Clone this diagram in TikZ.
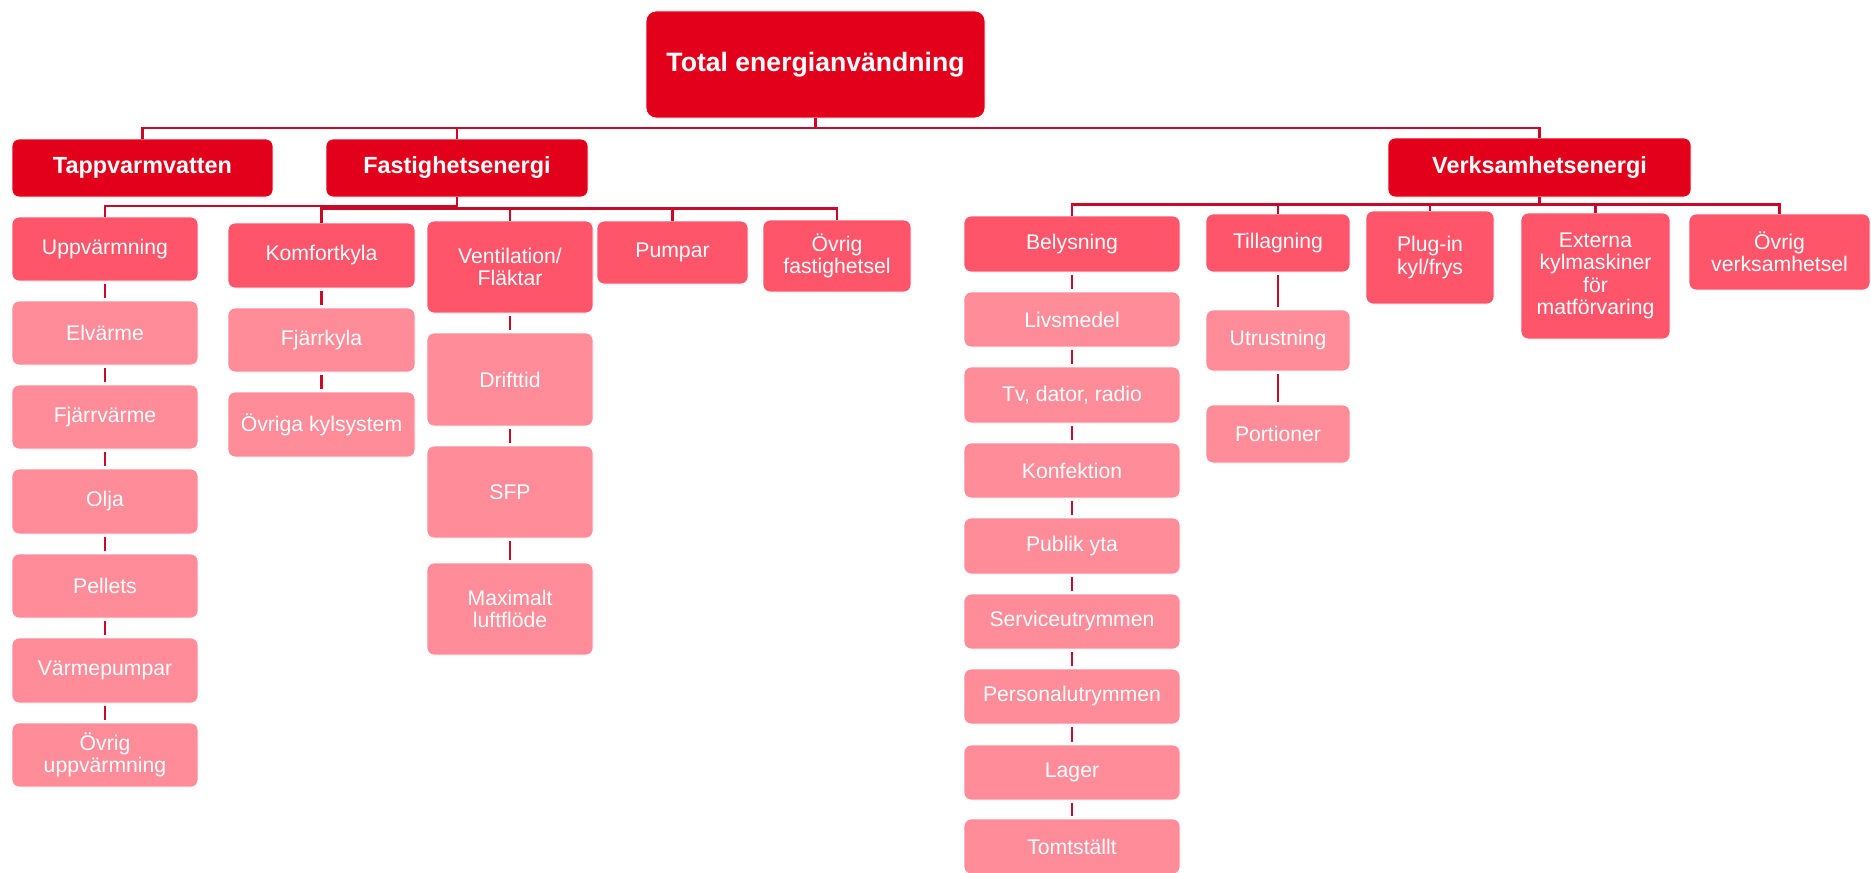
\documentclass[tikz,border=0pt]{standalone}
\usepackage{fontspec}
\setmainfont{Liberation Sans}
\definecolor{dk}{RGB}{226,0,26}
\definecolor{md}{RGB}{255,85,106}
\definecolor{lt}{RGB}{255,140,152}
\definecolor{ln}{RGB}{200,10,40}
\newcommand{\bx}[7]{%
  \pgfmathsetmacro{\bxcx}{(#2+#4)/2}%
  \pgfmathsetmacro{\bxcy}{(#3+#5)/2}%
  \pgfmathsetmacro{\bxw}{(#4-#2)*0.5}%
  \pgfmathsetmacro{\bxh}{(#5-#3)*0.5}%
  \node[#6, minimum width=\bxw pt, minimum height=\bxh pt] (#1) at (\bxcx,\bxcy) {#7};}
\begin{document}
\begin{tikzpicture}[x=0.5pt,y=-0.5pt,
  box/.style={rounded corners=3.5pt, inner sep=0pt, align=center, text=white, draw=white, line width=0.4pt},
  darkbox/.style={box, fill=dk, font=\fontsize{11.7}{14}\selectfont\bfseries},
  topbox/.style={box, fill=dk, rounded corners=5pt, font=\fontsize{13.3}{16}\selectfont\bfseries},
  midbox/.style={box, fill=md, font=\fontsize{10.6}{11.2}\selectfont},
  litebox/.style={box, fill=lt, font=\fontsize{10.6}{11.2}\selectfont},
  bus/.style={draw=ln, line width=1.2pt},
  link/.style={draw=ln, line width=1.4pt, shorten <=1.2pt, shorten >=1.2pt}]
\clip (0,0) rectangle (1871,872);
\fill[white] (0,0) rectangle (1871,872);
% top
\bx{total}{646}{11}{985}{118}{topbox}{Total energianvändning}
\bx{tapp}{12}{139}{273}{197}{darkbox}{Tappvarmvatten}
\bx{fast}{326}{139}{588}{197}{darkbox}{Fastighetsenergi}
\bx{verk}{1388}{138}{1691}{197}{darkbox}{Verksamhetsenergi}
% Fastighetsenergi children
\bx{upp}{12}{217}{198}{281}{midbox}{Uppvärmning}
\bx{elv}{12}{301}{198}{365}{litebox}{Elvärme}
\bx{fjv}{12}{385}{198}{449}{litebox}{Fjärrvärme}
\bx{olja}{12}{469}{198}{534}{litebox}{Olja}
\bx{pell}{12}{554}{198}{618}{litebox}{Pellets}
\bx{varm}{12}{638}{198}{703}{litebox}{Värmepumpar}
\bx{ovu}{12}{723}{198}{787}{litebox}{Övrig\\uppvärmning}
\bx{komf}{228}{223}{415}{288}{midbox}{Komfortkyla}
\bx{fjk}{228}{308}{415}{372}{litebox}{Fjärrkyla}
\bx{ovk}{228}{392}{415}{457}{litebox}{Övriga kylsystem}
\bx{vent}{427}{221}{593}{313}{midbox}{Ventilation/\\Fläktar}
\bx{drift}{427}{333}{593}{426}{litebox}{Drifttid}
\bx{sfp}{427}{446}{593}{538}{litebox}{SFP}
\bx{maxl}{427}{563}{593}{655}{litebox}{Maximalt\\luftflöde}
\bx{pump}{597}{221}{748}{284}{midbox}{Pumpar}
\bx{ovf}{763}{220}{911}{292}{midbox}{Övrig\\fastighetsel}
% Verksamhetsenergi children
\bx{bel}{964}{216}{1180}{272}{midbox}{Belysning}
\bx{liv}{964}{292}{1180}{347}{litebox}{Livsmedel}
\bx{tv}{964}{367}{1180}{423}{litebox}{Tv, dator, radio}
\bx{konf}{964}{443}{1180}{498}{litebox}{Konfektion}
\bx{pub}{964}{518}{1180}{574}{litebox}{Publik yta}
\bx{serv}{964}{594}{1180}{649}{litebox}{Serviceutrymmen}
\bx{pers}{964}{669}{1180}{724}{litebox}{Personalutrymmen}
\bx{lag}{964}{745}{1180}{800}{litebox}{Lager}
\bx{tom}{964}{819}{1180}{874}{litebox}{Tomtställt}
\bx{till}{1206}{214}{1350}{272}{midbox}{Tillagning}
\bx{utr}{1206}{310}{1350}{371}{litebox}{Utrustning}
\bx{port}{1206}{405}{1350}{463}{litebox}{Portioner}
\bx{plug}{1366}{211}{1494}{304}{midbox}{Plug-in\\kyl/frys}
\bx{ext}{1521}{213}{1670}{339}{midbox}{Externa\\kylmaskiner\\för\\matförvaring}
\bx{ovv}{1689}{214}{1870}{290}{midbox}{Övrig\\verksamhetsel}
% bus coordinates
\coordinate (busT) at (0,128);
\coordinate (busF1) at (0,206);
\coordinate (busF2) at (0,208.5);
\coordinate (busV) at (0,204.5);
% top bus
\draw[bus] (total.south) -- (total.south |- busT);
\draw[bus] (tapp.north) -- (tapp.north |- busT) -- (verk.north |- busT) -- (verk.north);
\draw[bus] (fast.north) -- (fast.north |- busT);
% Fastighetsenergi bus
\draw[bus] (fast.south) -- (fast.south |- busF2);
\draw[bus] (fast.south |- busF1) -- (upp.north |- busF1) -- (upp.north);
\draw[bus] (komf.north) -- (komf.north |- busF2) -- (ovf.north |- busF2) -- (ovf.north);
\draw[bus] (vent.north |- busF2) -- (vent.north);
\draw[bus] (pump.north |- busF2) -- (pump.north);
% Verksamhetsenergi bus
\draw[bus] (verk.south) -- (verk.south |- busV);
\draw[bus] (bel.north) -- (bel.north |- busV) -- (ovv.north |- busV) -- (ovv.north);
\draw[bus] (till.north |- busV) -- (till.north);
\draw[bus] (plug.north |- busV) -- (plug.north);
\draw[bus] (ext.north |- busV) -- (ext.north);
% chains
\foreach \a/\b in {upp/elv, elv/fjv, fjv/olja, olja/pell, pell/varm, varm/ovu,
  komf/fjk, fjk/ovk, vent/drift, drift/sfp, sfp/maxl,
  bel/liv, liv/tv, tv/konf, konf/pub, pub/serv, serv/pers, pers/lag, lag/tom,
  till/utr, utr/port}
  \draw[link] (\a.south) -- (\b.north);
\end{tikzpicture}
\end{document}
